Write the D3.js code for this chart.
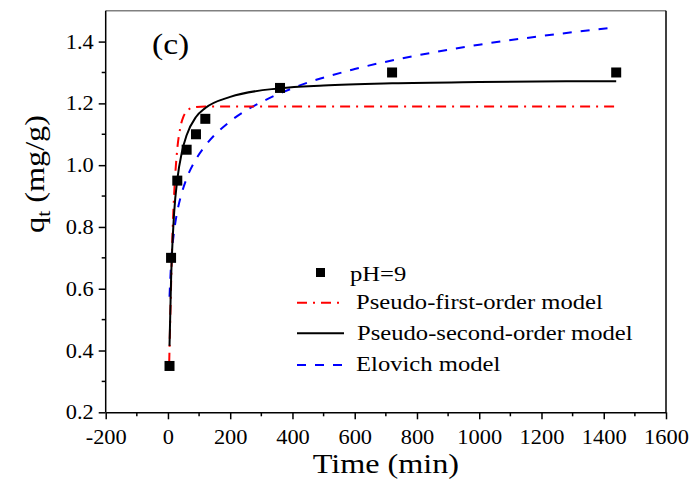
<!DOCTYPE html>
<html>
<head>
<meta charset="utf-8">
<script src="https://cdn.jsdelivr.net/npm/d3@7"></script>
<style>
  body { margin: 0; background: #fff; }
  svg text { font-family: "Times New Roman", Times, "Liberation Serif", serif !important; fill: #000; }
</style>
</head>
<body>
<svg id="chart" width="696" height="490"></svg>
<script>
// measured points (pH=9)
var expTime = [5, 10, 30, 60, 90, 120, 360, 720, 1440];
var expQ    = [0.35, 0.70, 0.95, 1.05, 1.10, 1.15, 1.25, 1.30, 1.30];

// model curves
var pfoTime = [4, 10, 15, 20, 30, 40, 50, 60, 75, 90, 120, 400, 800, 1440];
var pfoQ    = [0.36, 0.61, 0.79, 0.908, 1.053, 1.123, 1.158, 1.174, 1.185, 1.188, 1.19, 1.19, 1.19, 1.19];

var psoTime = [5, 10, 20, 30, 45, 60, 90, 120, 200, 360, 500, 720, 1000, 1440];
var psoQ    = [0.415, 0.628, 0.848, 0.953, 1.043, 1.097, 1.156, 1.185, 1.221, 1.249, 1.258, 1.265, 1.269, 1.272];

var eloTime = [5, 10, 20, 30, 45, 60, 90, 120, 200, 300, 400, 600, 800, 1000, 1200, 1440];
var eloQ    = [0.574, 0.681, 0.787, 0.850, 0.912, 0.957, 1.019, 1.063, 1.142, 1.204, 1.249, 1.311, 1.355, 1.390, 1.418, 1.446];

var xTicks = [-200, 0, 200, 400, 600, 800, 1000, 1200, 1400, 1600];
var yTicks = [0.2, 0.4, 0.6, 0.8, 1.0, 1.2, 1.4];
var legendNames = ["pH=9", "Pseudo-first-order model", "Pseudo-second-order model", "Elovich model"];

var pLeft = 105.7, pRight = 666, pTop = 10.7, pBottom = 412.3;
var sx = 1.12; // text in the source is a bit wide

var svg = d3.select("#chart");

var x = d3.scaleLinear().domain([-200, 1600]).range([pLeft, pRight]);
var y = d3.scaleLinear().domain([0.2, 1.5]).range([pBottom, pTop]);

function zip(a, b) { return a.map(function(d, i) { return {t: d, q: b[i]}; }); }

// frame: top gray, right black
svg.append("line").attr("x1", pLeft).attr("x2", pRight).attr("y1", pTop).attr("y2", pTop)
    .attr("stroke", "#808080").attr("stroke-width", 1.5);
svg.append("line").attr("x1", pRight).attr("x2", pRight).attr("y1", pTop).attr("y2", pBottom)
    .attr("stroke", "#000").attr("stroke-width", 1.5);

// minor ticks
var xMinor = d3.range(-100, 1600, 200);
var yMinor = [0.3, 0.5, 0.7, 0.9, 1.1, 1.3];
svg.append("g").selectAll("line").data(xMinor).enter().append("line")
    .attr("x1", function(d) { return x(d); }).attr("x2", function(d) { return x(d); })
    .attr("y1", pBottom).attr("y2", pBottom + 4).attr("stroke", "#000").attr("stroke-width", 1.5);
svg.append("g").selectAll("line").data(yMinor).enter().append("line")
    .attr("y1", function(d) { return y(d); }).attr("y2", function(d) { return y(d); })
    .attr("x1", pLeft).attr("x2", pLeft - 4).attr("stroke", "#000").attr("stroke-width", 1.5);

var xAxis = d3.axisBottom(x).tickValues(xTicks).tickSize(7).tickSizeOuter(0)
    .tickFormat(function(d) { return String(d); });
var gx = svg.append("g").attr("transform", "translate(0," + pBottom + ")").call(xAxis);
gx.select(".domain").attr("stroke-width", 1.5);
gx.selectAll(".tick line").attr("stroke-width", 1.5);
gx.selectAll(".tick text").attr("font-size", 20)
    .attr("y", 0).attr("dy", 0)
    .attr("transform", "translate(0,32) scale(" + sx + ",1)");

var yAxis = d3.axisLeft(y).tickValues(yTicks).tickSize(7).tickSizeOuter(0)
    .tickFormat(d3.format(".1f"));
var gy = svg.append("g").attr("transform", "translate(" + pLeft + ",0)").call(yAxis);
gy.select(".domain").attr("stroke-width", 1.5).attr("d", "M0," + pBottom + "V" + pTop);
gy.selectAll(".tick line").attr("stroke-width", 1.5);
gy.selectAll(".tick text").attr("font-size", 20)
    .attr("x", 0).attr("dy", "0.33em")
    .attr("transform", "translate(-12,0) scale(" + sx + ",1)");

// axis titles
svg.append("text").attr("transform", "translate(" + ((pLeft + pRight) / 2) + ",473) scale(1.15,1)")
    .attr("text-anchor", "middle").attr("font-size", 28).text("Time (min)");

var yt = svg.append("text").attr("transform", "translate(44,174) rotate(-90) scale(1.15,1)")
    .attr("text-anchor", "middle").attr("font-size", 28);
yt.append("tspan").text("q");
yt.append("tspan").attr("font-size", 19).attr("dy", 6).text("t");
yt.append("tspan").attr("dy", -6).text(" (mg/g)");

svg.append("text").attr("transform", "translate(152,54) scale(" + sx + ",1)")
    .attr("font-size", 30).text("(c)");

// curves
var line = d3.line()
    .x(function(d) { return x(d.t); })
    .y(function(d) { return y(d.q); })
    .curve(d3.curveMonotoneX);

svg.append("path").datum(zip(eloTime, eloQ)).attr("d", line)
    .attr("fill", "none").attr("stroke", "#0000ff").attr("stroke-width", 2)
    .attr("stroke-dasharray", "9,9");
svg.append("path").datum(zip(pfoTime, pfoQ)).attr("d", line)
    .attr("fill", "none").attr("stroke", "#ff0000").attr("stroke-width", 2)
    .attr("stroke-dasharray", "10,6,2,6");
svg.append("path").datum(zip(psoTime, psoQ)).attr("d", line)
    .attr("fill", "none").attr("stroke", "#000").attr("stroke-width", 2);

// points
svg.append("g").selectAll("rect").data(zip(expTime, expQ)).enter().append("rect")
    .attr("x", function(d) { return x(d.t) - 5; })
    .attr("y", function(d) { return y(d.q) - 5; })
    .attr("width", 10).attr("height", 10).attr("fill", "#000");

// legend
var lg = svg.append("g");
lg.append("rect").attr("x", 316).attr("y", 268).attr("width", 9).attr("height", 9).attr("fill", "#000");
var legLines = [
  {y: 302.7, color: "#ff0000", dash: "10,6,2,6"},
  {y: 333.3, color: "#000", dash: null},
  {y: 365, color: "#0000ff", dash: "9,9"}
];
legLines.forEach(function(d) {
  lg.append("line").attr("x1", 297).attr("x2", 344).attr("y1", d.y).attr("y2", d.y)
    .attr("stroke", d.color).attr("stroke-width", 2)
    .attr("stroke-dasharray", d.dash);
});
var legText = [[350, 281], [356, 309], [357, 340], [356, 371]];
legendNames.forEach(function(n, i) {
  lg.append("text").attr("transform", "translate(" + legText[i][0] + "," + legText[i][1] + ") scale(" + sx + ",1)")
    .attr("font-size", 22).text(n);
});
</script>
</body>
</html>
